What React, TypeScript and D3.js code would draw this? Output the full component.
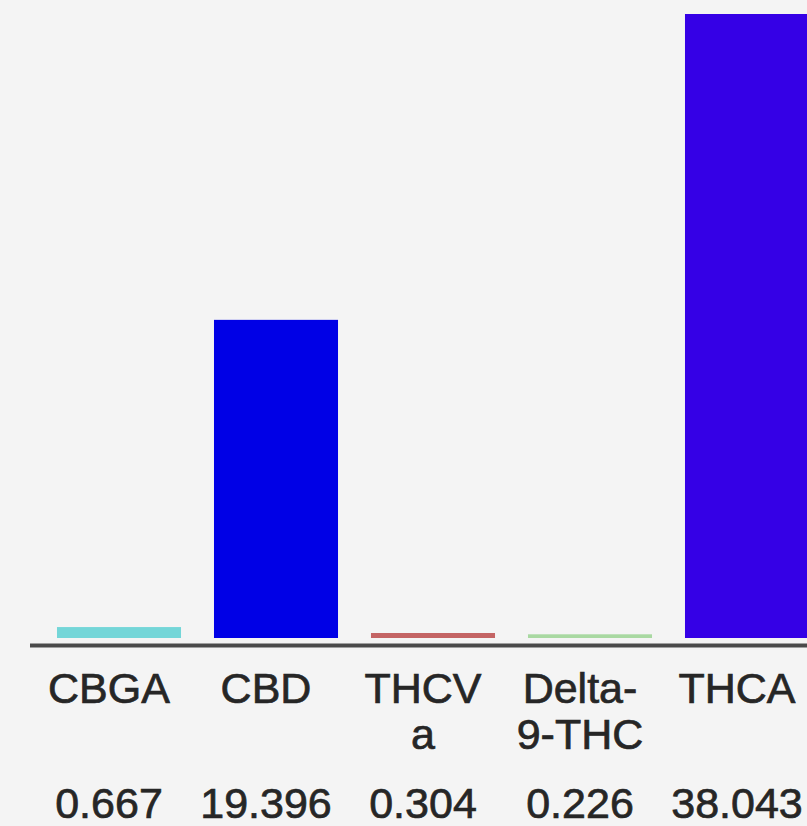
import * as d3 from "d3";

// cannabinoid content, %
const compounds = ["CBGA", "CBD", "THCVa", "Delta-9-THC", "THCA"];
const labelLines = [["CBGA"], ["CBD"], ["THCV", "a"], ["Delta-", "9-THC"], ["THCA"]];
const amounts = [0.667, 19.396, 0.304, 0.226, 38.043];
const valueLabels = ["0.667", "19.396", "0.304", "0.226", "38.043"];
const colors = ["#74d6d8", "#0000e6", "#c46464", "#a9d9a2", "#3500e6"];

const W = 807;
const H = 826;
const BASE = 638;
const FONT = "'Liberation Sans', Arial, Helvetica, sans-serif";

export default function App() {
  const x = d3
    .scaleBand<string>()
    .domain(compounds)
    .range([40.5, 40.5 + 5 * 157])
    .paddingInner(0.21)
    .paddingOuter(0.105);
  const y = d3.scaleLinear().domain([0, 38.043]).range([BASE, 14]);

  return (
    <>
      <style>{`body{margin:0;background:#f4f4f4}`}</style>
      <svg width={W} height={H} style={{ display: "block", background: "#f4f4f4" }}>
        {compounds.map((c, i) => (
          <rect
            key={c}
            x={x(c)}
            y={y(amounts[i])}
            width={x.bandwidth()}
            height={BASE - y(amounts[i])}
            fill={colors[i]}
          />
        ))}
        <line x1={30} x2={W} y1={645.5} y2={645.5} stroke="#4a4a4a" strokeWidth={4} />
        <g
          fontFamily={FONT}
          fontSize={43}
          fill="#262626"
          stroke="#262626"
          strokeWidth={0.7}
          textAnchor="middle"
        >
          {compounds.map((c, i) => {
            const cx = x(c)! + x.bandwidth() / 2 - 10;
            return (
              <g key={c}>
                {labelLines[i].map((t, j) => (
                  <text key={j} x={cx} y={703 + j * 46}>
                    {t}
                  </text>
                ))}
                <text x={cx} y={818}>
                  {valueLabels[i]}
                </text>
              </g>
            );
          })}
        </g>
      </svg>
    </>
  );
}
